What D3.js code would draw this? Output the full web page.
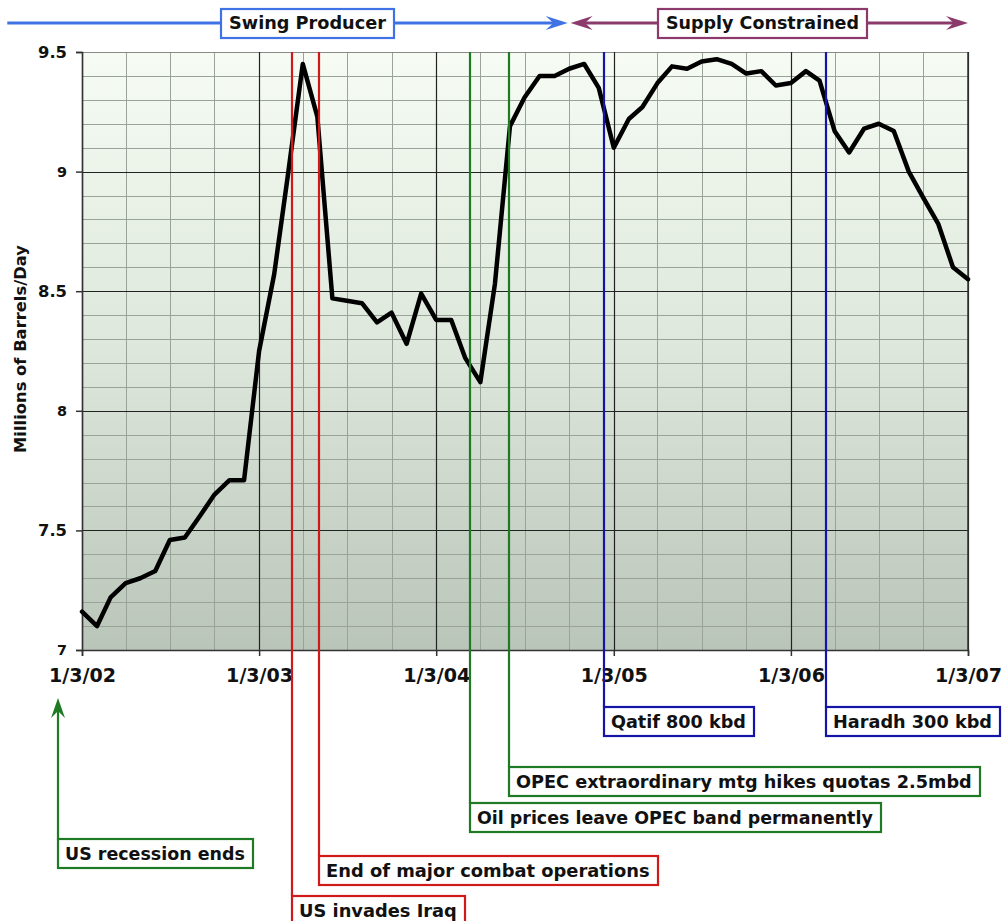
<!DOCTYPE html>
<html>
<head>
<meta charset="utf-8">
<script src="https://cdn.jsdelivr.net/npm/d3@7"></script>
<style>
  html, body { margin: 0; padding: 0; background: #ffffff; }
  svg { display: block; }
  text { font-family: Verdana, "DejaVu Sans", sans-serif; font-weight: bold; fill: #111; }
</style>
</head>
<body>
<svg id="chart" width="1005" height="921"></svg>
<script>
// ---------------- DATA ----------------
const startDate = "2002-01-03";
const endDate = "2007-01-03";
// Monthly output, Millions of Barrels/Day, Jan 2002 .. Jan 2007
const production = [
  7.16, 7.10, 7.22, 7.28, 7.30, 7.33, 7.46, 7.47, 7.56, 7.65, 7.71, 7.71,
  8.25, 8.57, 8.98, 9.45, 9.23, 8.47, 8.46, 8.45, 8.37, 8.41, 8.28, 8.49,
  8.38, 8.38, 8.22, 8.12, 8.53, 9.19, 9.31, 9.40, 9.40, 9.43, 9.45, 9.35,
  9.10, 9.22, 9.27, 9.37, 9.44, 9.43, 9.46, 9.47, 9.45, 9.41, 9.42, 9.36,
  9.37, 9.42, 9.38, 9.17, 9.08, 9.18, 9.20, 9.17, 9.00, 8.89, 8.78, 8.60,
  8.55
];
const yTicks = [7, 7.5, 8, 8.5, 9, 9.5];
const yTickLabels = ["7", "7.5", "8", "8.5", "9", "9.5"];
const xTickDates = ["2002-01-03", "2003-01-03", "2004-01-03", "2005-01-03", "2006-01-03", "2007-01-03"];
const xTickLabels = ["1/3/02", "1/3/03", "1/3/04", "1/3/05", "1/3/06", "1/3/07"];
const yAxisTitle = "Millions of Barrels/Day";

const regimeLabels = ["Swing Producer", "Supply Constrained"];
const regimeStarts = ["2001-08-02", "2004-10-06"];
const regimeEnds   = ["2004-09-30", "2007-01-03"];

const eventLabels = [
  "US recession ends",
  "US invades Iraq",
  "End of major combat operations",
  "Oil prices leave OPEC band permanently",
  "OPEC extraordinary mtg hikes quotas 2.5mbd",
  "Qatif 800 kbd",
  "Haradh 300 kbd"
];
const eventDates = ["2001-11-14", "2003-03-12", "2003-05-07", "2004-03-12", "2004-06-01", "2004-12-13", "2006-03-17"];

// ---------------- LAYOUT / STYLE ----------------
const P = { left: 82, right: 968, top: 52, bottom: 650 };
const regimeColors = ["#3f72e4", "#8c3a6c"];
const regimeBoxes = [{ x0: 221, x1: 394, tw: 157 }, { x0: 658, x1: 867, tw: 193 }];
const eventColors = ["#1f7a24", "#d01a1a", "#d01a1a", "#1f7a24", "#1f7a24", "#1414a8", "#1414a8"];
const eventBoxTop = [839, 896, 856, 803, 767, 707, 707];
const eventTextW  = [180, 158, 324, 396, 456, 135, 159];
const eventArrow  = [true, false, false, false, false, false, false];

const parse = d3.utcParse("%Y-%m-%d");
const svg = d3.select("#chart");

const x = d3.scaleUtc().domain([parse(startDate), parse(endDate)]).range([P.left, P.right]);
const y = d3.scaleLinear().domain([7, 9.5]).range([P.bottom, P.top]);

function fit(sel, target) {
  const w = sel.node().getComputedTextLength();
  const fs = parseFloat(sel.attr("font-size"));
  sel.attr("font-size", (fs * target / w).toFixed(2));
  return sel;
}

// background gradient
const defs = svg.append("defs");
const grad = defs.append("linearGradient").attr("id", "bg").attr("x1", 0).attr("y1", 0).attr("x2", 0).attr("y2", 1);
grad.append("stop").attr("offset", "0%").attr("stop-color", "#f6fcf4");
grad.append("stop").attr("offset", "50%").attr("stop-color", "#dde7db");
grad.append("stop").attr("offset", "100%").attr("stop-color", "#bac5b9");

svg.append("rect")
  .attr("x", P.left).attr("y", P.top)
  .attr("width", P.right - P.left).attr("height", P.bottom - P.top)
  .attr("fill", "url(#bg)");

// minor grid
const grid = svg.append("g");
const minorY = d3.range(0, 26).map(i => 7 + i * 0.1);
grid.selectAll("line.mh").data(minorY).join("line")
  .attr("x1", P.left).attr("x2", P.right)
  .attr("y1", d => Math.round(y(d)) + 0.5).attr("y2", d => Math.round(y(d)) + 0.5)
  .attr("stroke", "#9aa39a").attr("stroke-width", 1);
const start = parse(startDate);
const minorX = d3.range(0, 21).map(i => d3.utcMonth.offset(start, 3 * i));
grid.selectAll("line.mv").data(minorX).join("line")
  .attr("x1", d => Math.round(x(d)) + 0.5).attr("x2", d => Math.round(x(d)) + 0.5)
  .attr("y1", P.top).attr("y2", P.bottom)
  .attr("stroke", "#9aa39a").attr("stroke-width", 1);
// major grid
grid.selectAll("line.Mh").data(yTicks).join("line")
  .attr("x1", P.left).attr("x2", P.right)
  .attr("y1", d => Math.round(y(d)) + 0.5).attr("y2", d => Math.round(y(d)) + 0.5)
  .attr("stroke", d => d === 9.5 ? "#8a8a8a" : "#222").attr("stroke-width", 1.2);
grid.selectAll("line.Mv").data(xTickDates.map(parse)).join("line")
  .attr("x1", d => Math.round(x(d)) + 0.5).attr("x2", d => Math.round(x(d)) + 0.5)
  .attr("y1", P.top).attr("y2", P.bottom)
  .attr("stroke", "#222").attr("stroke-width", 1.2);

// axes
const yAxis = d3.axisLeft(y).tickValues(yTicks).tickFormat((d, i) => yTickLabels[i]).tickSize(6).tickPadding(9);
const gy = svg.append("g").attr("transform", `translate(${P.left},0)`).call(yAxis);
gy.select(".domain").attr("stroke", "#333").attr("stroke-width", 1.5);
gy.selectAll(".tick line").attr("stroke", "#333").attr("stroke-width", 1.5);
gy.selectAll(".tick text").attr("font-size", 16).attr("font-family", null).attr("fill", "#111")
  .each(function (d) { fit(d3.select(this), this.textContent.length === 3 ? 29 : 10); });

const xAxis = d3.axisBottom(x).tickValues(xTickDates.map(parse)).tickFormat((d, i) => xTickLabels[i]).tickSize(6).tickPadding(12);
const gx = svg.append("g").attr("transform", `translate(0,${P.bottom})`).call(xAxis);
gx.select(".domain").attr("stroke", "#333").attr("stroke-width", 1.5);
gx.selectAll(".tick line").attr("stroke", "#333").attr("stroke-width", 1.5);
gx.selectAll(".tick text").attr("font-size", 16).attr("font-family", null).attr("fill", "#111")
  .each(function () { fit(d3.select(this), 67); });

// right border
svg.append("line").attr("x1", P.right).attr("x2", P.right).attr("y1", P.top).attr("y2", P.bottom)
  .attr("stroke", "#333").attr("stroke-width", 1.5);

// y axis title
const yt = svg.append("text")
  .attr("transform", `translate(26,349) rotate(-90)`)
  .attr("text-anchor", "middle").attr("font-size", 14)
  .text(yAxisTitle);
fit(yt, 208);

// data line
const pts = production.map((v, i) => ({ date: d3.utcMonth.offset(start, i), value: v }));
svg.append("path")
  .datum(pts)
  .attr("fill", "none").attr("stroke", "#000").attr("stroke-width", 4.5)
  .attr("stroke-linejoin", "round").attr("stroke-linecap", "round")
  .attr("d", d3.line().x(d => x(d.date)).y(d => y(d.value)));

// ---------- event annotations ----------
function arrowHead(g, tipX, tipY, dir, color, len, half) {
  // dir: "up", "left", "right"
  let p;
  const notch = len * 0.65;
  if (dir === "up") p = [[tipX, tipY], [tipX - half, tipY + len], [tipX, tipY + notch], [tipX + half, tipY + len]];
  if (dir === "right") p = [[tipX, tipY], [tipX - len, tipY - half], [tipX - notch, tipY], [tipX - len, tipY + half]];
  if (dir === "left") p = [[tipX, tipY], [tipX + len, tipY - half], [tipX + notch, tipY], [tipX + len, tipY + half]];
  g.append("path").attr("d", "M" + p.map(q => q.join(",")).join("L") + "Z").attr("fill", color);
}

const ev = svg.append("g");
eventLabels.forEach((label, i) => {
  const ex = Math.round(x(parse(eventDates[i])));
  const top = eventBoxTop[i];
  const col = eventColors[i];
  const g = ev.append("g");
  if (eventArrow[i]) {
    g.append("line").attr("x1", ex).attr("x2", ex).attr("y1", top).attr("y2", 708)
      .attr("stroke", col).attr("stroke-width", 2.2);
    arrowHead(g, ex, 698, "up", col, 20, 7);
  } else {
    g.append("line").attr("x1", ex).attr("x2", ex).attr("y1", P.top).attr("y2", top)
      .attr("stroke", col).attr("stroke-width", 2.2);
  }
  const rect = g.append("rect").attr("fill", "#fff").attr("stroke", col).attr("stroke-width", 2.2);
  const t = g.append("text").attr("x", ex + 7).attr("y", top + 15).attr("dy", "0.35em")
    .attr("font-size", 16).text(label);
  fit(t, eventTextW[i]);
  rect.attr("x", ex).attr("y", top).attr("width", eventTextW[i] + 15).attr("height", 29);
});

// ---------- regime header arrows ----------
const hy = 23;
regimeLabels.forEach((label, i) => {
  const x0 = x(parse(regimeStarts[i])), x1 = x(parse(regimeEnds[i]));
  const col = regimeColors[i];
  const g = svg.append("g");
  const left = i === 1 ? x0 + 12 : x0;
  g.append("line").attr("x1", left).attr("x2", x1 - 12).attr("y1", hy).attr("y2", hy)
    .attr("stroke", col).attr("stroke-width", 3);
  arrowHead(g, x1, hy, "right", col, 22, 7);
  if (i === 1) arrowHead(g, x0, hy, "left", col, 22, 7);
  const b = regimeBoxes[i];
  g.append("rect").attr("x", b.x0).attr("y", 9).attr("width", b.x1 - b.x0).attr("height", 29)
    .attr("fill", "#fff").attr("stroke", col).attr("stroke-width", 2.2);
  const t = g.append("text").attr("x", (b.x0 + b.x1) / 2).attr("y", hy).attr("dy", "0.35em")
    .attr("text-anchor", "middle").attr("font-size", 17).text(label);
  fit(t, b.tw);
});
</script>
</body>
</html>
